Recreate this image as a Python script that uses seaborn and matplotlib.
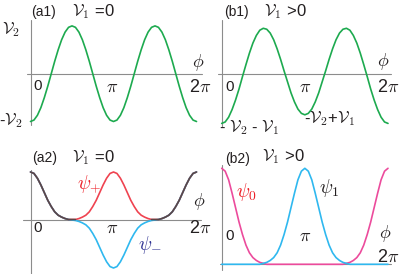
import numpy as np
import matplotlib
matplotlib.use("Agg")
import matplotlib.pyplot as plt
import seaborn as sns

# ----------------------------
# Data (49 samples over 0..2pi)
# ----------------------------
phi = np.linspace(0, 2 * np.pi, 49)

# (a1) V1 = 0 : potential, units of V2
pot_a1 = [-1.00, -0.97, -0.87, -0.71, -0.50, -0.26, 0.00, 0.26, 0.50, 0.71, 0.87, 0.97,
          1.00, 0.97, 0.87, 0.71, 0.50, 0.26, 0.00, -0.26, -0.50, -0.71, -0.87, -0.97,
          -1.00, -0.97, -0.87, -0.71, -0.50, -0.26, 0.00, 0.26, 0.50, 0.71, 0.87, 0.97,
          1.00, 0.97, 0.87, 0.71, 0.50, 0.26, 0.00, -0.26, -0.50, -0.71, -0.87, -0.97,
          -1.00]

# (b1) V1 > 0 : deeper well at 0 / 2pi than at pi
pot_b1 = [-1.04, -1.01, -0.91, -0.75, -0.55, -0.32, -0.06, 0.19, 0.43, 0.64, 0.80, 0.91,
          0.95, 0.93, 0.85, 0.71, 0.52, 0.30, 0.06, -0.17, -0.40, -0.59, -0.74, -0.83,
          -0.86, -0.83, -0.74, -0.59, -0.40, -0.17, 0.06, 0.30, 0.52, 0.71, 0.85, 0.93,
          0.95, 0.91, 0.80, 0.64, 0.43, 0.19, -0.06, -0.32, -0.55, -0.75, -0.91, -1.01,
          -1.04]

# (a2) symmetric / antisymmetric states
psi_plus = [1.00, 0.97, 0.87, 0.73, 0.57, 0.41, 0.28, 0.17, 0.10, 0.06, 0.03, 0.01,
            0.01, 0.01, 0.03, 0.06, 0.10, 0.17, 0.28, 0.41, 0.57, 0.73, 0.87, 0.97,
            1.00, 0.97, 0.87, 0.73, 0.57, 0.41, 0.28, 0.17, 0.10, 0.06, 0.03, 0.01,
            0.01, 0.01, 0.03, 0.06, 0.10, 0.17, 0.28, 0.41, 0.57, 0.73, 0.87, 0.97,
            1.00]
psi_minus = [1.00, 0.97, 0.87, 0.73, 0.57, 0.41, 0.28, 0.17, 0.10, 0.06, 0.03, 0.01,
             0.00, -0.01, -0.03, -0.06, -0.10, -0.17, -0.28, -0.41, -0.57, -0.73, -0.87, -0.97,
             -1.00, -0.97, -0.87, -0.73, -0.57, -0.41, -0.28, -0.17, -0.10, -0.06, -0.03, -0.01,
             0.00, 0.01, 0.03, 0.06, 0.10, 0.17, 0.28, 0.41, 0.57, 0.73, 0.87, 0.97,
             1.00]

# (b2) localized states
psi_0 = [1.00, 0.97, 0.88, 0.74, 0.59, 0.44, 0.31, 0.20, 0.12, 0.07, 0.04, 0.02,
         0.01, 0.00, 0.00, 0.00, 0.00, 0.00, 0.00, 0.00, 0.00, 0.00, 0.00, 0.00,
         0.00, 0.00, 0.00, 0.00, 0.00, 0.00, 0.00, 0.00, 0.00, 0.00, 0.00, 0.00,
         0.01, 0.02, 0.04, 0.07, 0.12, 0.20, 0.31, 0.44, 0.59, 0.74, 0.88, 0.97,
         1.00]
psi_1 = [0.00, 0.00, 0.00, 0.00, 0.00, 0.00, 0.00, 0.00, 0.00, 0.00, 0.00, 0.00,
         0.01, 0.02, 0.04, 0.07, 0.12, 0.20, 0.31, 0.44, 0.59, 0.74, 0.88, 0.97,
         1.00, 0.97, 0.88, 0.74, 0.59, 0.44, 0.31, 0.20, 0.12, 0.07, 0.04, 0.02,
         0.01, 0.00, 0.00, 0.00, 0.00, 0.00, 0.00, 0.00, 0.00, 0.00, 0.00, 0.00,
         0.00]

# ----------------------------
# Style
# ----------------------------
sns.set_theme(style="white")
plt.rcParams["font.family"] = ["Liberation Sans", "DejaVu Sans"]
plt.rcParams["mathtext.fontset"] = "cm"

INK = "#231f20"
AXIS = "#8c8c8c"
GREEN = "#1daa4f"
RED = "#ef4350"
CYAN = "#2fb8ef"
DARK = "#5e4545"
PINK = "#ec4b9c"
LW = 1.2

W, H = 399, 274
fig = plt.figure(figsize=(W / 100, H / 100), dpi=100)


def make_panel(box, ox, oy, sx, sy):
    # box in pixels (left, top, right, bottom); origin (ox, oy) in pixels
    l, t, r, b = box
    ax = fig.add_axes([l / W, 1 - b / H, (r - l) / W, (b - t) / H])
    ax.set_xlim((l - ox) / sx, (r - ox) / sx)
    ax.set_ylim((oy - b) / sy, (oy - t) / sy)
    ax.axis("off")
    return ax


def axes_lines(ax, ox, oy, sx, sy, hx, vy):
    # hx: horizontal line pixel extent, vy: vertical line pixel extent
    ax.plot([(hx[0] - ox) / sx, (hx[1] - ox) / sx], [0, 0], color=AXIS, lw=0.8, zorder=1)
    ax.plot([0, 0], [(oy - vy[1]) / sy, (oy - vy[0]) / sy], color=AXIS, lw=0.8, zorder=1)


def label(x, y, s, size=11, color=INK, ha="left"):
    fig.text(x / W, 1 - y / H, s, fontsize=size, color=color, ha=ha, va="center")


V1 = r"$\mathcal{V}_\mathsf{1}$"
V2 = r"$\mathcal{V}_\mathsf{2}$"
PI = r"$\pi$"
PHI = r"$\phi$"

# ----------------------------
# Curves
# ----------------------------
sx_a, sx_b = 166 / (2 * np.pi), 166.3 / (2 * np.pi)

# (a1)
ax = make_panel((0, 0, 210, 137), 30.5, 73.7, sx_a, 47.8)
axes_lines(ax, 30.5, 73.7, sx_a, 47.8, (27, 202), (20, 125))
sns.lineplot(x=phi, y=pot_a1, ax=ax, color=GREEN, lw=LW, zorder=3)

# (b1)
ax = make_panel((205, 0, 399, 137), 221.7, 73.7, sx_b, 47.8)
axes_lines(ax, 221.7, 73.7, sx_b, 47.8, (218, 391), (20, 127))
sns.lineplot(x=phi, y=pot_b1, ax=ax, color=GREEN, lw=LW, zorder=3)

# (a2)
ax = make_panel((0, 137, 210, 274), 30.5, 220, sx_a, 48)
axes_lines(ax, 30.5, 220, sx_a, 48, (23, 201), (170, 274))
sns.lineplot(x=phi, y=psi_plus, ax=ax, color=RED, lw=LW, zorder=3)
sns.lineplot(x=phi, y=psi_minus, ax=ax, color=CYAN, lw=LW, zorder=3)
# where both states coincide the two colours overlap into a dark line
same = np.abs(np.array(psi_plus) - np.array(psi_minus)) < 0.025
idx = np.where(same)[0]
for run in np.split(idx, np.where(np.diff(idx) > 1)[0] + 1):
    ax.plot(phi[run], np.array(psi_plus)[run], color=DARK, lw=LW, zorder=4)

# (b2)
ax = make_panel((205, 137, 399, 274), 221.7, 264.3, sx_b, 96)
axes_lines(ax, 221.7, 264.3, sx_b, 96, (220, 391), (165, 270))
sns.lineplot(x=phi, y=psi_0, ax=ax, color=PINK, lw=LW, zorder=3)
sns.lineplot(x=phi, y=psi_1, ax=ax, color=CYAN, lw=LW, zorder=3)

# ----------------------------
# Text
# ----------------------------
label(31, 12, "(a1)", 10)
label(72, 12, V1 + " =0", 12)
label(2, 30, V2, 12)
label(-1, 121, "-" + V2, 12)
label(192, 62, PHI, 13)
label(33, 86, "0")
label(106, 87, PI, 13)
label(189, 87, "2" + PI, 13)

label(224, 12, "(b1)", 10)
label(264, 12, V1 + " >0", 12)
label(377, 61, PHI, 13)
label(225, 87, "0")
label(299, 87, PI, 13)
label(377, 87, "2" + PI, 13)
label(219, 128, "- " + V2 + " - " + V1, 12)
label(304, 119, "-" + V2 + "+" + V1, 12)

label(32, 158, "(a2)", 10)
label(72, 158, V1 + " =0", 12)
label(77, 184, r"$\psi_\mathsf{+}$", 14, color="#ed1c24")
label(193, 201, PHI, 13)
label(33, 228, "0")
label(106, 228, PI, 13)
label(189, 228, "2" + PI, 13)
label(138, 245, r"$\psi_\mathsf{-}$", 14, color="#2e3192")

label(225, 159, "(b2)", 10)
label(262, 157, V1 + " >0", 12)
label(236, 192, r"$\psi_\mathsf{0}$", 14, color="#ed1c24")
label(319, 188, r"$\psi_\mathsf{1}$", 14)
label(225, 236, "0")
label(299, 236, PI, 13)
label(379, 233, PHI, 13)
label(377, 257, "2" + PI, 13)

fig.savefig("out.png", dpi=100)
